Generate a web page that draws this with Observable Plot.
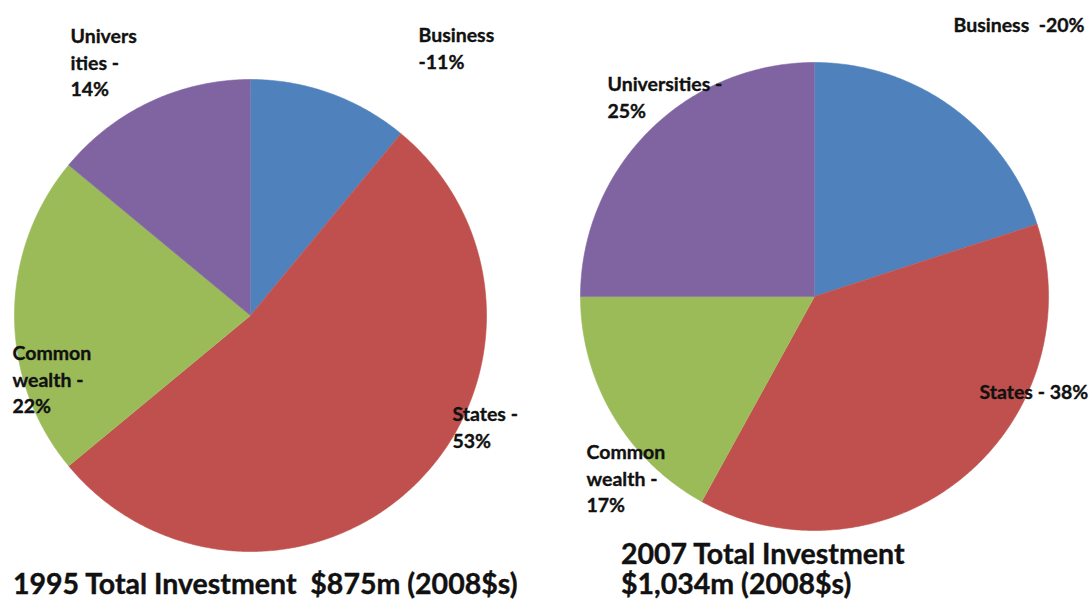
<!DOCTYPE html>
<html><head><meta charset="utf-8">
<script src="https://cdn.jsdelivr.net/npm/d3@7"></script>
<script src="https://cdn.jsdelivr.net/npm/@observablehq/plot@0.6"></script>
<style>
html,body{margin:0;padding:0;background:#fff;}
#chart{position:relative;width:1089px;height:603px;overflow:hidden;font-family:Lato,sans-serif;}
#chart svg{position:absolute;top:0;}
.title{position:absolute;font-family:Lato,sans-serif;font-weight:700;font-size:28.5px;color:#111;line-height:30px;white-space:pre;-webkit-text-stroke:0.4px #111;}
</style></head><body><div id="chart"></div>
<script>
// ---- data ----
const categories = ["Business", "States", "Commonwealth", "Universities"];
const colors = ["#4F81BD", "#C0504D", "#9BBB59", "#8064A2"];
const values1995 = [11, 53, 22, 14];
const values2007 = [20, 38, 17, 25];
const labelNames1995 = ["Business\n-", "States -\n", "Common\nwealth -\n", "Univers\nities -\n"];
const labelNames2007 = ["Business  -", "States - ", "Common\nwealth -\n", "Universities -\n"];
const titles = ["1995 Total Investment  $875m (2008$s)", "2007 Total Investment\n$1,034m (2008$s)"];

// ---- layout (pixels) ----
const H = 603;
const panels = [
  {values: values1995, names: labelNames1995, title: titles[0], left: 0, width: 545, cx: 250, cy: 315, r: 236,
   labelPos: [[418, 23], [452, 402], [12, 341], [70, 24]], titlePos: [13, 568]},
  {values: values2007, names: labelNames2007, title: titles[1], left: 545, width: 544, cx: 814, cy: 296, r: 234,
   labelPos: [[953, 13], [979, 380], [586, 440], [607, 72]], titlePos: [621, 538]}
];

const chart = document.getElementById("chart");

for (const p of panels) {
  const rows = categories.map((c, i) => ({cat: c, value: p.values[i], name: p.names[i]}));
  const arcs = d3.pie().sort(null).value(d => d.value)(rows);
  const pts = [];
  for (const a of arcs) {
    pts.push({cat: a.data.cat, x: 0, y: 0});
    const n = Math.max(8, Math.ceil((a.endAngle - a.startAngle) / 0.01));
    for (let k = 0; k <= n; k++) {
      const t = a.startAngle + (a.endAngle - a.startAngle) * k / n;
      pts.push({cat: a.data.cat, x: Math.sin(t), y: Math.cos(t)});
    }
  }
  const lcx = p.cx - p.left;
  const toX = px => (px - p.left - lcx) / p.r;
  const toY = py => (p.cy - py) / p.r;
  const labels = rows.map((d, i) => ({
    text: d.name + d.value + "%",
    x: toX(p.labelPos[i][0]),
    y: toY(p.labelPos[i][1])
  }));

  const svg = Plot.plot({
    width: p.width, height: H, margin: 0,
    style: {background: "transparent", overflow: "visible"},
    x: {domain: [(0 - lcx) / p.r, (p.width - lcx) / p.r], axis: null},
    y: {domain: [-(H - p.cy) / p.r, p.cy / p.r], axis: null},
    color: {domain: categories, range: colors},
    marks: [
      Plot.line(pts, {x: "x", y: "y", z: "cat", fill: "cat", stroke: "cat", strokeWidth: 0.6}),
      Plot.text(labels, {x: "x", y: "y", text: "text", textAnchor: "start", lineAnchor: "top",
        fontSize: 19.5, fontWeight: 700, lineHeight: 1.35, fill: "#111", stroke: "#111", strokeWidth: 0.35,
        fontFamily: "Lato, sans-serif"})
    ]
  });
  svg.style.left = p.left + "px";
  chart.appendChild(svg);

  const t = document.createElement("div");
  t.className = "title";
  t.textContent = p.title;
  t.style.left = p.titlePos[0] + "px";
  t.style.top = p.titlePos[1] + "px";
  chart.appendChild(t);
}
</script></body></html>
